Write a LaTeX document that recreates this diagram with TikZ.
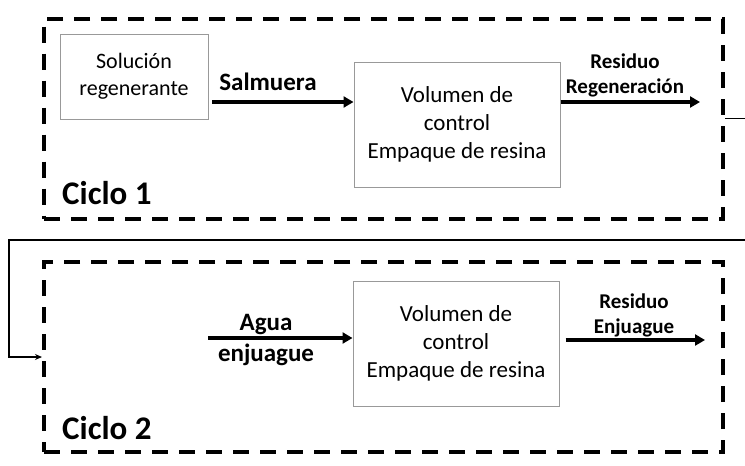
\documentclass[tikz,border=0pt]{standalone}
\usepackage{fontspec}
\setmainfont{Carlito}
\usetikzlibrary{arrows.meta}

\begin{document}
\begin{tikzpicture}[x=1pt,y=-1pt,
  ciclo/.style={draw,line width=4pt,dash pattern=on 16pt off 11pt,inner sep=0pt,outer sep=2pt},
  caja/.style={draw=black!40,line width=1pt,align=center,inner sep=0pt,minimum width=206pt,minimum height=125pt,font=\fontsize{23}{28}\selectfont},
  flujo/.style={line width=3.5pt,-{Triangle[length=10pt,width=11pt]}},
  rotulo/.style={align=center,inner sep=0pt,font=\fontsize{21}{25}\selectfont\bfseries},
  rotulogr/.style={rotulo,font=\fontsize{25}{31}\selectfont\bfseries},
  ciclotxt/.style={anchor=west,inner sep=0pt,font=\fontsize{33}{40}\selectfont\bfseries}]
\useasboundingbox (0,0) rectangle (745,466);

% ciclo 1
\node[ciclo,minimum width=679pt,minimum height=200pt] (c1) at (383.5,118.5) {};
\node[caja,minimum width=148pt,minimum height=85pt,font=\fontsize{22}{27}\selectfont] (sol) at (134,76.5) {Solución\\regenerante};
\node[caja] (vol1) at (457,124.5) {Volumen de\\control\\Empaque de resina};
\node[ciclotxt] (t1) at (62,193.5) {Ciclo 1};

\coordinate (s0) at (212,102);
\coordinate (r1) at (700,102);
\draw[flujo] (s0) -- (s0 -| vol1.west);
\draw[flujo] (vol1.east |- r1) -- (r1);
\node[rotulogr] (lsal) at (268,82) {Salmuera};
\node[rotulo] (lreg) at (625,75) {Residuo\\Regeneración};

% ciclo 2
\node[ciclo,minimum width=679pt,minimum height=190pt] (c2) at (383.5,357) {};
\node[caja] (vol2) at (456,343.5) {Volumen de\\control\\Empaque de resina};
\node[ciclotxt] (t2) at (62,428.5) {Ciclo 2};

\coordinate (a0) at (208,338);
\coordinate (e1) at (705,340);
\draw[flujo] (a0) -- (a0 -| vol2.west);
\draw[flujo] ([xshift=6pt]vol2.east |- e1) -- (e1);
\node[rotulogr] (lagua) at (266,340) {Agua\\enjuague};
\node[rotulo] (lenj) at (634,315) {Residuo\\Enjuague};

% paso de un ciclo al otro
\draw[line width=1.3pt,-{Stealth[length=7pt,width=6pt]}] (c1.east) -- ++(25,0) |- (9,240) |- (c2.west);

\end{tikzpicture}
\end{document}
